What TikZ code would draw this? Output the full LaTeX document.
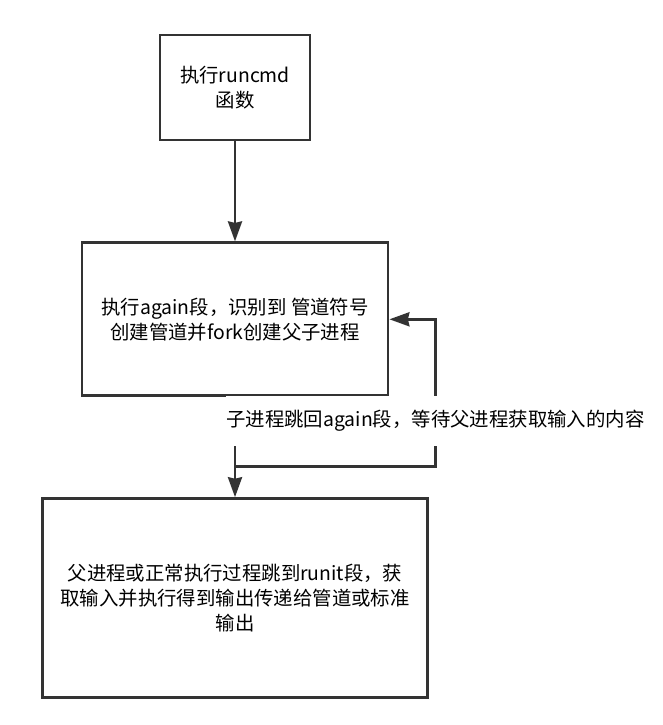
\documentclass[tikz,border=0pt]{standalone}
\usepackage{fontspec}
\setmainfont{Noto Sans CJK SC}
\usepackage{xcolor}
\colorlet{LINECOLOR}{black!80}
\usepackage{tikz}
\usetikzlibrary{arrows.meta,positioning,calc}
\tikzset{
  proc-style/.style = {
    rectangle, draw=LINECOLOR, line width=2.8pt,
    fill=white,
    align=center,
    font=\fontsize{19.4}{25}\selectfont,
    inner sep=0pt
  },
  wait-style/.style = {
    fill=white, inner xsep=0pt,
    minimum height=50pt,
    font=\fontsize{19.4}{25}\selectfont
  },
  every edge/.style = {draw, line width=2.8pt, LINECOLOR}
}
\begin{document}
\begin{tikzpicture}[x=1pt,y=-1pt,
    >={Stealth[length=20pt,width=14pt,inset=1.5pt]}]
    \useasboundingbox (0,0) rectangle (663,725);

    %%% boxes
    \node[proc-style,minimum width=150pt,minimum height=105pt] (runcmd) at (235,87.5)
      {执行runcmd\\函数};
    \node[proc-style,minimum width=306pt,minimum height=153pt,below=100pt of runcmd] (again)
      {执行again段，识别到 管道符号\\创建管道并fork创建父子进程};
    \node[proc-style,minimum width=385pt,minimum height=199pt,below=100pt of again] (runit)
      {父进程或正常执行过程跳到runit段，获\\取输入并执行得到输出传递给管道或标准\\输出};

    %%% turning points
    \coordinate (join) at ([yshift=-69pt]again.south);
    \coordinate (back) at ([xshift=46pt]again.east);

    %%% arrows
    \path[->] (runcmd.south) edge (again.north);
    \path[->] (again.south) edge (runit.north);
    \draw[->,line width=2.8pt,LINECOLOR] (join) -| (back) -- (again.east);

    %%% label
    \node[wait-style] (waitLbl) at ([yshift=-101.5pt]back)
      {子进程跳回again段，等待父进程获取输入的内容};
\end{tikzpicture}
\end{document}
